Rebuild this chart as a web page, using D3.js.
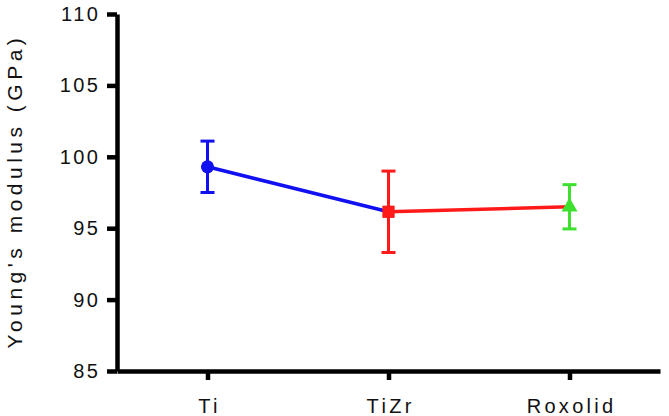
<!DOCTYPE html>
<html>
<head>
  <meta charset="UTF-8">
  <style>
    body {
      margin: 0;
      background: #fff;
    }
    svg text {
      font-family: 'Liberation Sans', Arial, sans-serif;
      fill: #111;
    }
  </style>
  <script src="https://d3js.org/d3.v7.min.js"></script>
</head>
<body>
<svg id="chart" width="669" height="416"></svg>
<script>
// Data
const groups = ['Ti', 'TiZr', 'Roxolid'];
const means = [99.3, 96.15, 96.5];
const errors = [1.8, 2.85, 1.55];
const colors = ['#1010f0', '#ff1a1a', '#3ee030'];
const yTicks = [85, 90, 95, 100, 105, 110];

const svg = d3.select('#chart');

const x = d3.scalePoint()
  .domain(groups)
  .range([117, 660])
  .padding(0.5);

const y = d3.scaleLinear()
  .domain([85, 110])
  .range([371, 14]);

// axes
const yAxis = svg.append('g')
  .attr('transform', 'translate(117,0)')
  .call(d3.axisLeft(y).tickValues(yTicks).tickSize(10).tickSizeOuter(0).tickPadding(9));

const xAxis = svg.append('g')
  .attr('transform', 'translate(0,371)')
  .call(d3.axisBottom(x).tickSize(9).tickSizeOuter(0).tickPadding(19));

[yAxis, xAxis].forEach(ax => {
  ax.select('.domain').attr('stroke', '#000').attr('stroke-width', 4.5);
  ax.selectAll('.tick line').attr('stroke', '#000').attr('stroke-width', 4.5);
});

yAxis.selectAll('.tick text')
  .style('font-size', '20px')
  .style('letter-spacing', '2.5px')
  .attr('dx', 2.5);

xAxis.selectAll('.tick text')
  .style('font-size', '20px')
  .style('letter-spacing', '3.3px')
  .attr('dx', 1.6);

// y title
svg.append('text')
  .attr('transform', `translate(22,${y(97.6)}) rotate(-90)`)
  .attr('text-anchor', 'middle')
  .style('font-size', '21px')
  .style('letter-spacing', '4.5px')
  .text("Young's modulus  (GPa)");

const pts = groups.map((g, i) => ({ g, m: means[i], e: errors[i], c: colors[i] }));

// connecting lines: segment coloured like the point it leads from
for (let i = 1; i < pts.length; i++) {
  svg.append('line')
    .attr('x1', x(pts[i - 1].g)).attr('y1', y(pts[i - 1].m))
    .attr('x2', x(pts[i].g)).attr('y2', y(pts[i].m))
    .attr('stroke', colors[i - 1])
    .attr('stroke-width', 3.5);
}

// error bars
const eb = svg.append('g').selectAll('g').data(pts).join('g')
  .attr('stroke', d => d.c)
  .attr('stroke-width', 3);

eb.append('line')
  .attr('x1', d => x(d.g)).attr('x2', d => x(d.g))
  .attr('y1', d => y(d.m + d.e)).attr('y2', d => y(d.m - d.e));
eb.append('line')
  .attr('x1', d => x(d.g) - 7).attr('x2', d => x(d.g) + 7)
  .attr('y1', d => y(d.m + d.e)).attr('y2', d => y(d.m + d.e));
eb.append('line')
  .attr('x1', d => x(d.g) - 7).attr('x2', d => x(d.g) + 7)
  .attr('y1', d => y(d.m - d.e)).attr('y2', d => y(d.m - d.e));

// markers
const shapes = [d3.symbolCircle, d3.symbolSquare, d3.symbolTriangle];
const sizes = [135, 150, 110];
svg.append('g').selectAll('path').data(pts).join('path')
  .attr('transform', d => `translate(${x(d.g)},${y(d.m)})`)
  .attr('d', (d, i) => d3.symbol().type(shapes[i]).size(sizes[i])())
  .attr('fill', d => d.c);
</script>
</body>
</html>
